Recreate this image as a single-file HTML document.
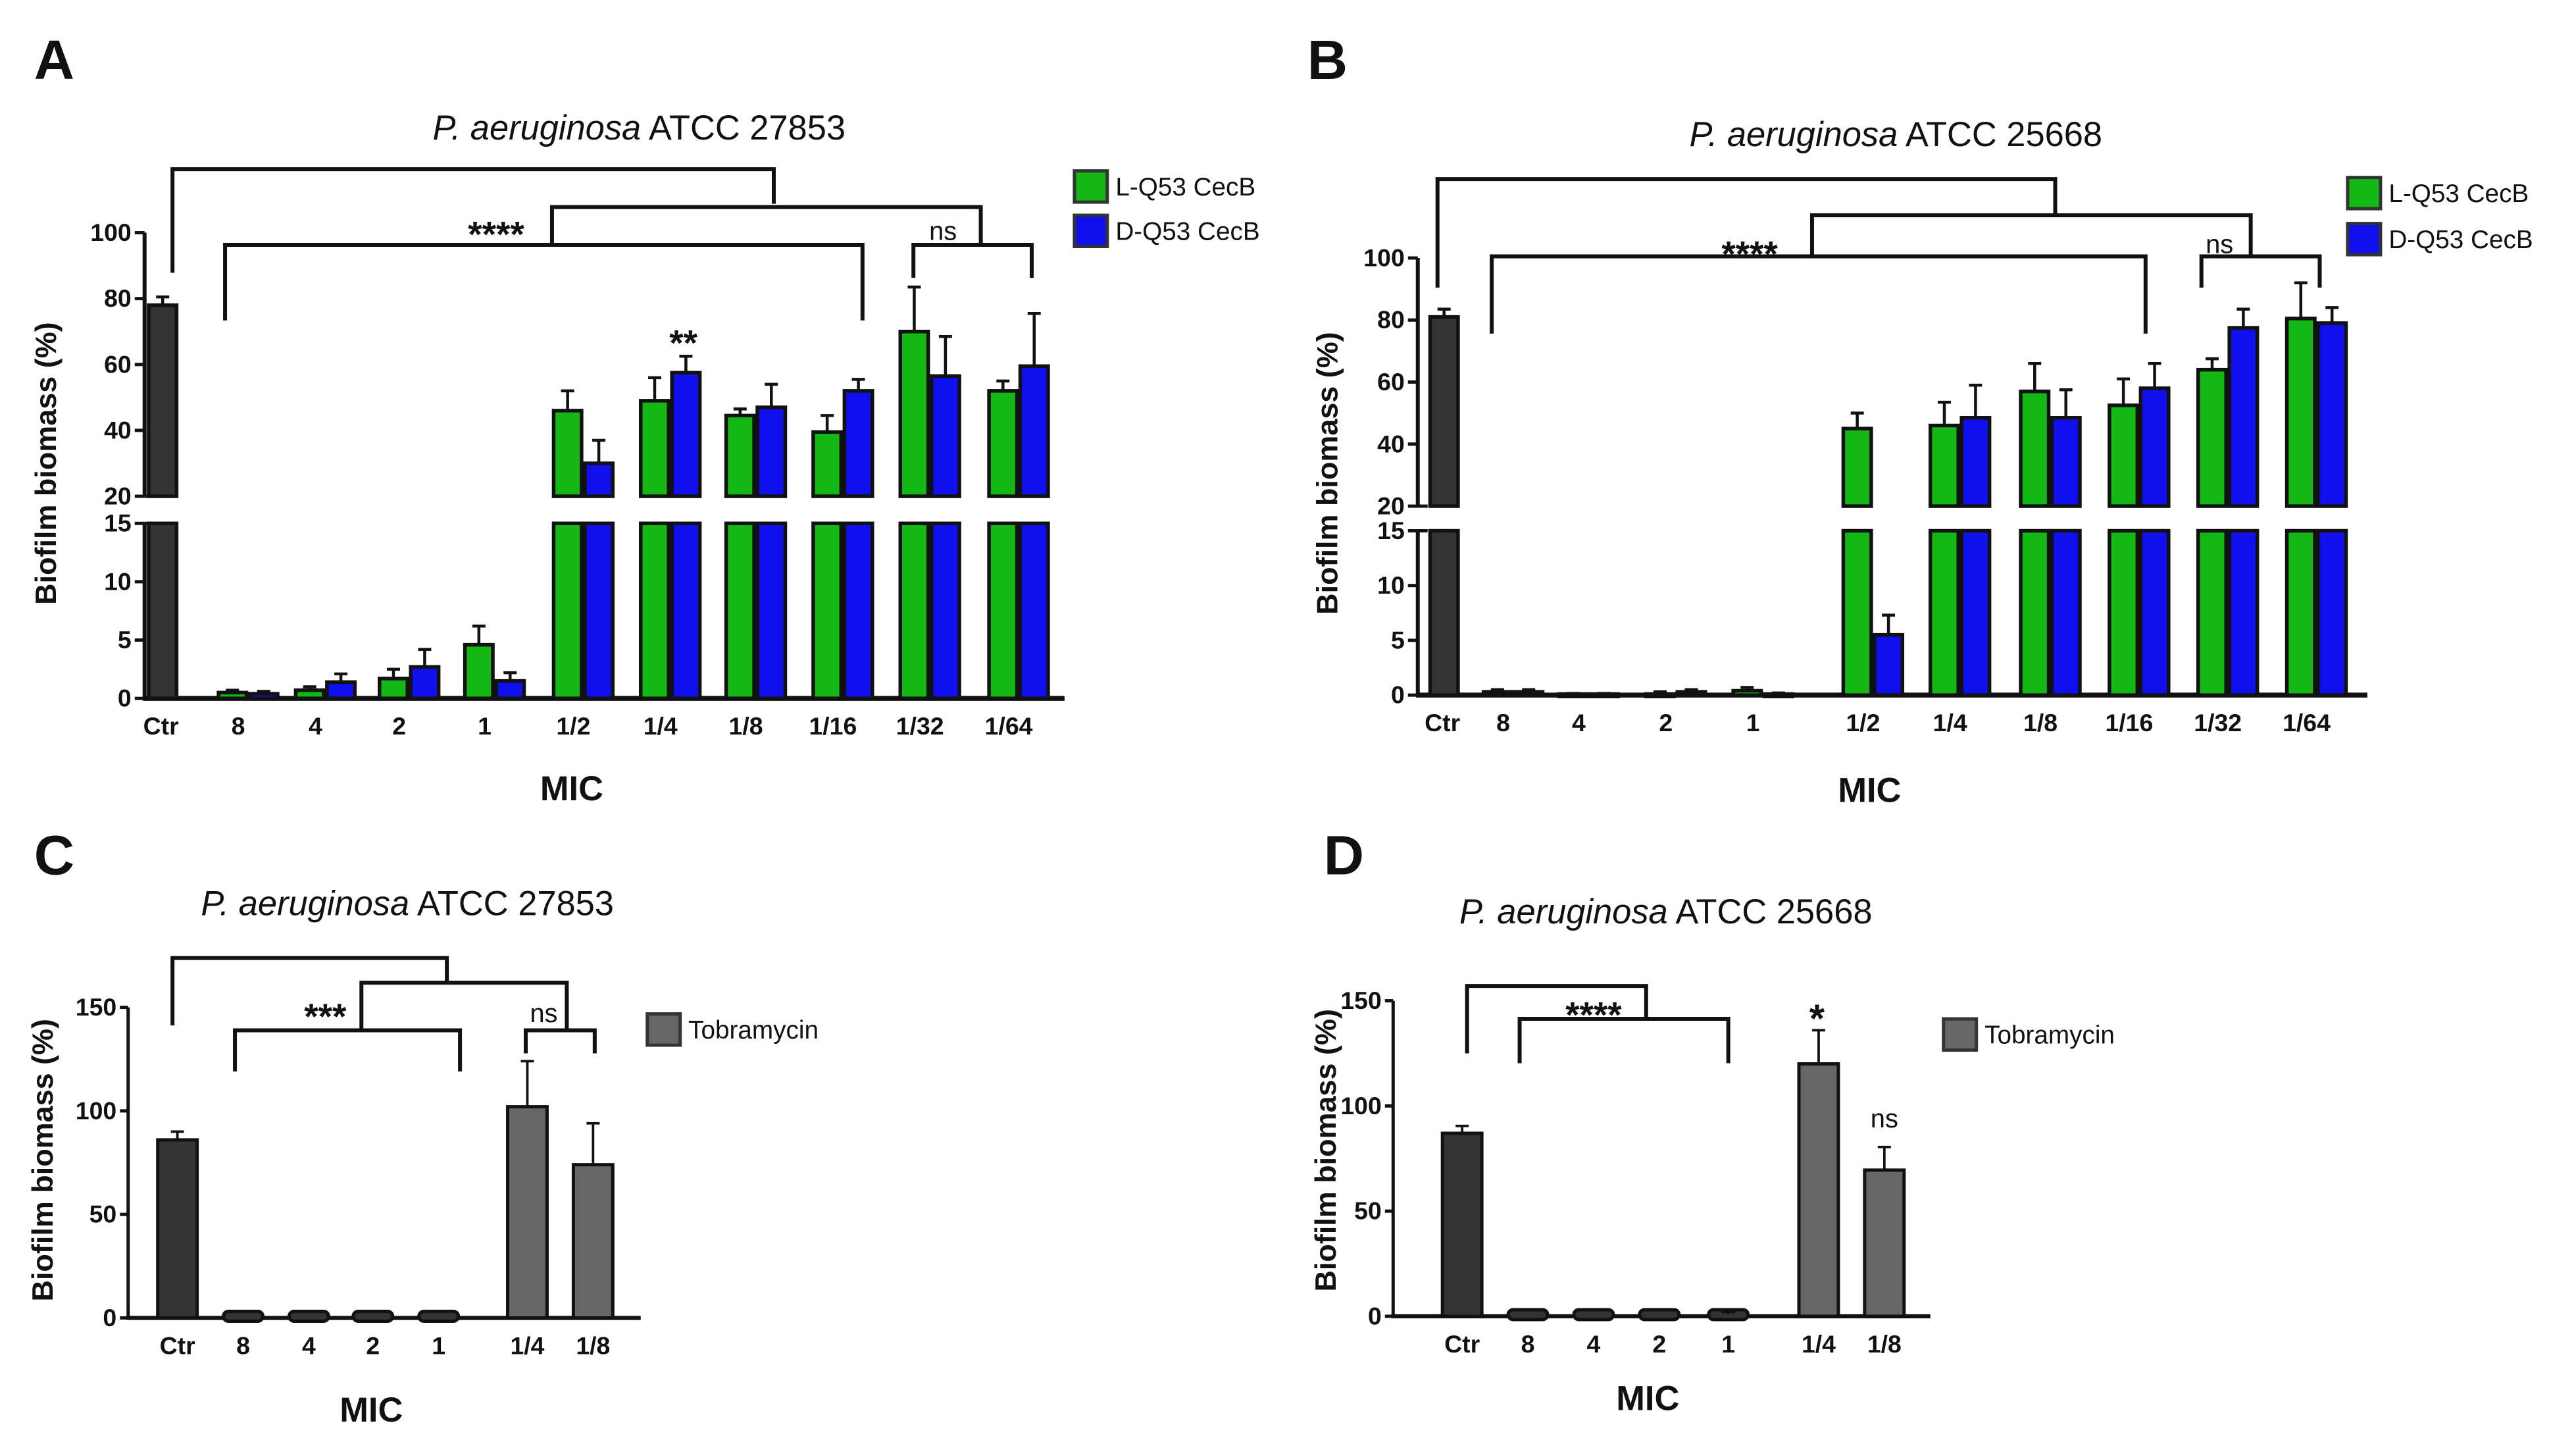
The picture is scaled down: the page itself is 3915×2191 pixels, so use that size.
<!DOCTYPE html>
<html><head><meta charset="utf-8"><style>
html,body{margin:0;padding:0;background:#fff}
svg{display:block}
text{font-family:"Liberation Sans",Arial,sans-serif;fill:#111}
.tk{font-weight:bold;font-size:15px}
.ttl{font-size:21px}
</style></head><body>
<svg id="fig" width="3915" height="2191" viewBox="0 0 1568 877.5" preserveAspectRatio="none" xmlns="http://www.w3.org/2000/svg"></svg>
<script>
// ---- data ----
const catsAB = ["Ctr","8","4","2","1","1/2","1/4","1/8","1/16","1/32","1/64"];
const ctrA = 78, ctrAErr = 2.5;
const lA = [0.5,0.7,1.7,4.6,46,49,44.5,39.5,70,52];
const lAErr = [0.2,0.3,0.8,1.6,6,7,2,5,13.5,3];
const dA = [0.4,1.4,2.7,1.5,30,57.5,47,52,56.5,59.5];
const dAErr = [0.2,0.7,1.5,0.7,7,5,7,3.5,12,16];
const ctrB = 81, ctrBErr = 2.5;
const lB = [0.3,0.1,0.1,0.4,45,46,57,52.5,64,80.5];
const lBErr = [0.2,0.05,0.2,0.3,5,7.5,9,8.5,3.5,11.5];
const dB = [0.3,0.1,0.3,0.1,5.5,48.5,48.5,58,77.5,79];
const dBErr = [0.2,0.05,0.2,0.1,1.8,10.5,9,8,6,5];
const catsCD = ["Ctr","8","4","2","1","1/4","1/8"];
const tobC = [86,1,1,1,1,102,74];
const tobCErr = [4,0,0,0,0,22,20];
const tobD = [87,1,1,1,1,120,69.5];
const tobDErr = [3.5,0,0,0,1,16,11];
const ticksUpper = [20,40,60,80,100];
const ticksLower = [0,5,10,15];
const ticksCD = [0,50,100,150];

const svg = document.getElementById('fig');
const NS = 'http://www.w3.org/2000/svg';
function mk(tag, at, parent){const e=document.createElementNS(NS,tag);for(const k in at)e.setAttribute(k,at[k]);(parent||svg).appendChild(e);return e;}
function txt(s,x,y,cls,anchor,parent){const t=mk('text',{x:x,y:y,'text-anchor':anchor||'middle'},parent);if(cls)t.setAttribute('class',cls);t.textContent=s;return t;}
function line(x1,y1,x2,y2,w,parent){return mk('line',{x1:x1,y1:y1,x2:x2,y2:y2,stroke:'#111','stroke-width':w||2},parent);}
function bracket(pts,parent){const p=mk('polyline',{points:pts.map(a=>a.join(',')).join(' '),fill:'none',stroke:'#111','stroke-width':2.4},parent);}
function star(s,x,y,size,bold){const t=txt(s,x,y,null,'middle');t.style.fontSize=size+'px';if(bold)t.style.fontWeight='bold';return t;}

function brokenPanel(cfg){
  const g=mk('g',{});
  
  
  const y=v=> v<=15 ? cfg.y0 - v*(cfg.y0-cfg.y15)/15 : (v>=20 ? cfg.y20-(v-20)*(cfg.y20-cfg.y100)/80 : cfg.y15);
  line(cfg.ax,cfg.y0,cfg.ax,cfg.y15,2.4,g); line(cfg.ax,cfg.y20,cfg.ax,cfg.y100,2.4,g);
  line(cfg.ax-1,cfg.y0,cfg.xend,cfg.y0,3,g);
  ticksLower.forEach(v=>{line(cfg.ax-6,y(v),cfg.ax,y(v),2,g);const t=txt(String(v),cfg.ax-8,y(v)+5,'tk','end',g);});
  ticksUpper.forEach(v=>{line(cfg.ax-6,y(v),cfg.ax,y(v),2,g);const t=txt(String(v),cfg.ax-8,y(v)+5,'tk','end',g);});
  line(cfg.ax,cfg.y20,cfg.ax+6,cfg.y20,2,g); line(cfg.ax,cfg.y15,cfg.ax+6,cfg.y15,2,g);
  function bar(cx,w,v,err,fill,nm){
    const x=cx-w/2;
    const parts=[];
    if(v<=15) parts.push([y(v),cfg.y0]);
    else{parts.push([cfg.y15,cfg.y0]); if(v>20) parts.push([y(v),cfg.y20]);}
    parts.forEach(p=>{const r=mk('rect',{x:x,y:p[0],width:w,height:Math.max(p[1]-p[0],1.5),fill:fill,stroke:'#111','stroke-width':2.2},g);});
    if(err>0 && (v<15||v>20)){const yt=y(v+err);line(cx,y(v),cx,yt,1.8,g);line(cx-4,yt,cx+4,yt,1.8,g);}
  }
  bar(cfg.ctrX,17,cfg.ctr,cfg.ctrErr,'#333','bar-ctr');
  cfg.pc.forEach((c,i)=>{
    bar(c-9.5,17,cfg.L[i],cfg.LErr[i],'#14b814','bar-l-q53-'+catsAB[i+1]);
    bar(c+9.5,17,cfg.D[i],cfg.DErr[i],'#1010ee','bar-d-q53-'+catsAB[i+1]);
  });
  catsAB.forEach((s,i)=>{const x= i===0?cfg.ctrX-1:cfg.pc[i-1]-6;const t=txt(s,x,cfg.y0+22,'tk','middle',g);});
  return g;
}
function legendEntry(x,y,fill,label,name){
  const g=mk('g',{});
  mk('rect',{x:x,y:y,width:20,height:19,fill:fill,stroke:'#333','stroke-width':2},g);
  const t=txt(label,x+25,y+15,null,'start',g);t.style.fontSize='15.5px';
}

// Panel A
const pcA=[151,198,249,301,355,408,460,513,566,620];
brokenPanel({name:'panel-a-chart',ax:88,xend:648,y0:425,y15:318.5,y20:302,y100:141.6,ctrX:99,ctr:ctrA,ctrErr:ctrAErr,pc:pcA,L:lA,LErr:lAErr,D:dA,DErr:dAErr});
bracket([[105,166],[105,103],[471,103],[471,124]]);
bracket([[336,149],[336,126],[597,126],[597,149]]);
bracket([[137,195],[137,149],[525,149],[525,195]]);
bracket([[556,169],[556,149],[628,149],[628,169]]);
star('****',302,150,22,true);
star('ns',574,146,16,false);
star('**',416,216,22,true);
legendEntry(654,104,'#14b814','L-Q53 CecB','legend-l-q53-a');
legendEntry(654,131,'#1010ee','D-Q53 CecB','legend-d-q53-a');

// Panel B
const pcB=[921,967,1020,1073,1140,1193,1248,1302,1356,1410];
brokenPanel({name:'panel-b-chart',ax:863,xend:1441,y0:423,y15:323,y20:308,y100:157,ctrX:879,ctr:ctrB,ctrErr:ctrBErr,pc:pcB,L:lB,LErr:lBErr,D:dB,DErr:dBErr});
bracket([[875,175],[875,109],[1251,109],[1251,131]]);
bracket([[1103,156],[1103,131],[1370,131],[1370,156]]);
bracket([[908,203],[908,156],[1306,156],[1306,203]]);
bracket([[1340,175],[1340,156],[1412,156],[1412,175]]);
star('****',1065,162,22,true);
star('ns',1351,154,16,false);
legendEntry(1429,108,'#14b814','L-Q53 CecB','legend-l-q53-b');
legendEntry(1429,136,'#1010ee','D-Q53 CecB','legend-d-q53-b');

function simplePanel(cfg){
  const g=mk('g',{});
  const y=v=>cfg.y0-v*(cfg.y0-cfg.y150)/150;
  line(cfg.ax,cfg.y0,cfg.ax,cfg.y150,2,g); line(cfg.ax-1,cfg.y0,cfg.xend,cfg.y0,2.5,g);
  ticksCD.forEach(v=>{line(cfg.ax-5,y(v),cfg.ax,y(v),2,g);const t=txt(String(v),cfg.ax-7,y(v)+5,'tk','end',g);});
  cfg.bx.forEach((cx,i)=>{
    const v=cfg.vals[i];const fill=i===0?'#333':'#666';
    const small=v<3;
    const r=mk('rect',{x:cx-12,y:small?cfg.y0-4:y(v),width:24,height:small?6:cfg.y0-y(v),fill:small?'#333':fill,stroke:'#111','stroke-width':2,rx:small?3:0},g);
    
    
    if(cfg.errs[i]>0){const yt=y(v+cfg.errs[i]);line(cx,y(v),cx,yt,1.5,g);line(cx-4,yt,cx+4,yt,1.5,g);}
    const t=txt(catsCD[i],cx,cfg.y0+22,'tk','middle',g);
  });
}
simplePanel({name:'panel-c-chart',ax:78,xend:390,y0:802,y150:613,bx:[108,148,188,227,267,321,361],vals:tobC,errs:tobCErr});
bracket([[105,624],[105,583],[272,583],[272,598]]);
bracket([[220,627],[220,598],[345,598],[345,627]]);
bracket([[143,652],[143,627],[280,627],[280,652]]);
bracket([[320,641],[320,627],[362,627],[362,641]]);
star('***',198,626,22,true);
star('ns',331,622,16,false);
legendEntry(394,617,'#666','Tobramycin','legend-tobramycin-c');

simplePanel({name:'panel-d-chart',ax:848,xend:1175,y0:801,y150:609,bx:[890,930,970,1010,1052,1107,1147],vals:tobD,errs:tobDErr});
bracket([[893,641],[893,600],[1002,600],[1002,620]]);
bracket([[925,647],[925,620],[1052,620],[1052,647]]);
star('****',970,625,22,true);
star('*',1106,628,24,true);
star('ns',1147,686,16,false);
legendEntry(1183,620,'#666','Tobramycin','legend-tobramycin-d');

[['A',33,48],['B',808,48],['C',33,532],['D',818,532]].forEach(a=>{const t=txt(a[0],a[1],a[2],null,'middle');t.style.fontSize='34px';t.style.fontWeight='bold';});
function title(x,y,num,nm){const t=mk('text',{x:x,y:y,'text-anchor':'middle',class:'ttl'});
  const a=mk('tspan',{'font-style':'italic'},t);a.textContent='P. aeruginosa';const b=mk('tspan',{},t);b.textContent=' ATCC '+num;}
title(389,85,'27853','title-a');title(1154,89,'25668','title-b');title(248,557,'27853','title-c');title(1014,562,'25668','title-d');
[[28,282,'y-axis-title-a'],[808,288,'y-axis-title-b'],[26,706,'y-axis-title-c'],[807,700,'y-axis-title-d']].forEach(a=>{const t=txt('Biofilm biomass (%)',a[0],a[1],null,'middle');t.setAttribute('transform','rotate(-90 '+a[0]+' '+a[1]+')');t.style.fontSize='18px';t.style.fontWeight='bold';t.setAttribute('dy','6');});
[[348,487,'x-axis-title-a'],[1138,488,'x-axis-title-b'],[226,865,'x-axis-title-c'],[1003,858,'x-axis-title-d']].forEach(a=>{const t=txt('MIC',a[0],a[1],null,'middle');t.style.fontSize='21px';t.style.fontWeight='bold';});
</script>
</body></html>
